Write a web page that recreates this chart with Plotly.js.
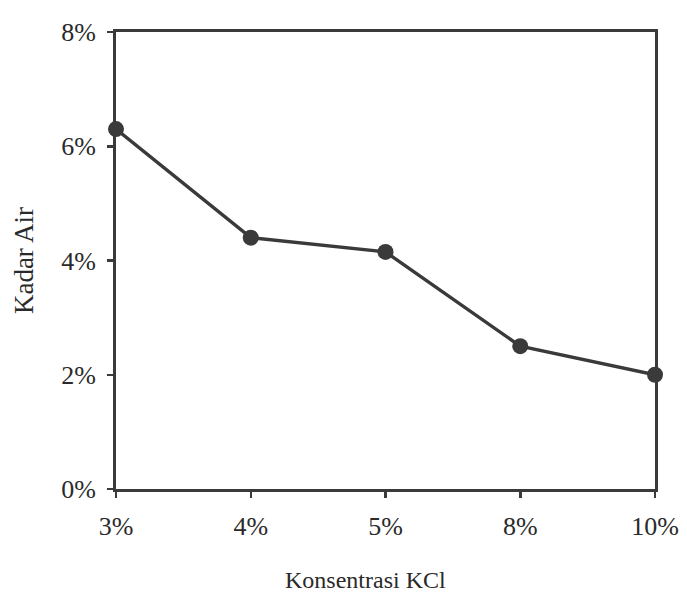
<!DOCTYPE html>
<html><head><meta charset="utf-8">
<script src="https://cdn.plot.ly/plotly-3.0.1.min.js"></script>
<style>html,body{margin:0;padding:0;background:#fff}</style>
</head><body>
<div id="chart" style="width:687px;height:596px"></div>
<script>
const categories = ["3%", "4%", "5%", "8%", "10%"];
const kadarAir = [0.063, 0.044, 0.0415, 0.025, 0.020];
const yTicks = [0, 0.02, 0.04, 0.06, 0.08];
const yTickLabels = ["0%", "2%", "4%", "6%", "8%"];
const xTitle = "Konsentrasi KCl";
const yTitle = "Kadar Air";

const ink = "#3a3a3a";
const textInk = "#2a2a2a";
const trace = {
  x: categories, y: kadarAir, type: "scatter", mode: "lines+markers",
  line: {color: ink, width: 3.4},
  marker: {color: ink, size: 16},
  cliponaxis: false
};
const layout = {
  width: 687, height: 596,
  margin: {l: 116, r: 32, t: 32, b: 107},
  paper_bgcolor: "#fff", plot_bgcolor: "#fff",
  showlegend: false,
  font: {family: "Liberation Serif, Times New Roman, serif", color: textInk},
  xaxis: {
    type: "category", range: [0, 4], showline: true, linecolor: ink, linewidth: 3,
    mirror: true, showgrid: false, zeroline: false,
    ticks: "outside", ticklen: 6, tickwidth: 2.5, tickcolor: ink,
    tickfont: {size: 26, color: textInk}, ticklabelstandoff: 6
  },
  yaxis: {
    range: [0, 0.08], tickvals: yTicks, ticktext: yTickLabels,
    showline: true, linecolor: ink, linewidth: 3, mirror: true,
    showgrid: false, zeroline: false,
    ticks: "outside", ticklen: 6, tickwidth: 2.5, tickcolor: ink,
    tickfont: {size: 26, color: textInk}, ticklabelstandoff: 6,
    title: {text: yTitle, font: {size: 27, color: textInk}, standoff: 20}
  },
  annotations: [{
    text: xTitle, xref: "paper", yref: "paper", x: 0.462, y: -0.199,
    xanchor: "center", yanchor: "middle", showarrow: false,
    font: {size: 24, color: textInk}
  }]
};
Plotly.newPlot("chart", [trace], layout, {displayModeBar: false, staticPlot: true});
</script>
</body></html>
